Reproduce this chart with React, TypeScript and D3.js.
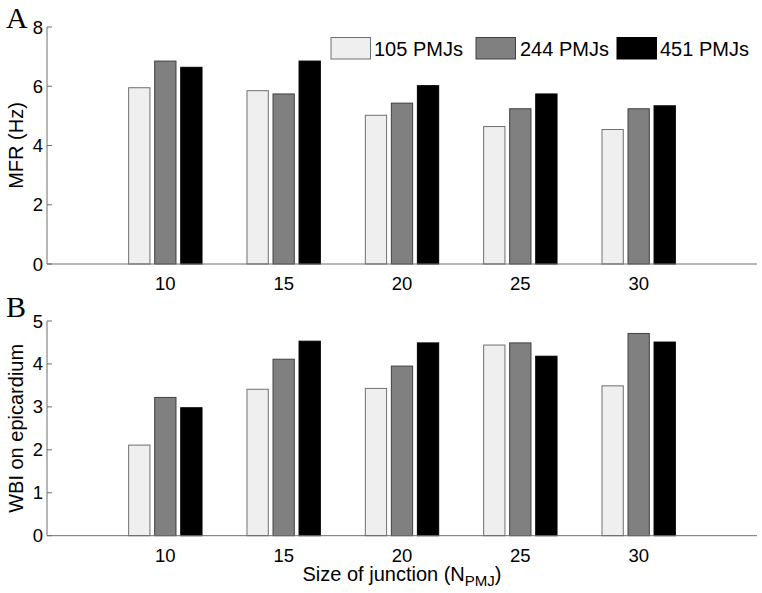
import React from "react";
import * as d3 from "d3";

const categories = [10, 15, 20, 25, 30];
const seriesNames = ["105 PMJs", "244 PMJs", "451 PMJs"];
const mfr105 = [5.95, 5.85, 5.02, 4.64, 4.54];
const mfr244 = [6.85, 5.74, 5.43, 5.24, 5.24];
const mfr451 = [6.64, 6.85, 6.02, 5.74, 5.34];
const wbi105 = [2.11, 3.41, 3.43, 4.44, 3.49];
const wbi244 = [3.22, 4.11, 3.95, 4.49, 4.71];
const wbi451 = [2.98, 4.53, 4.49, 4.18, 4.51];
const mfrTicks = [0, 2, 4, 6, 8];
const wbiTicks = [0, 1, 2, 3, 4, 5];

const fills = ["#efefef", "#808080", "#000000"];
const strokes = ["#707070", "#404040", "#000000"];
const FONT = "'Liberation Sans', Arial, Helvetica, sans-serif";
const SERIF = "'Liberation Serif', 'Times New Roman', serif";
const AXIS = "#6e6e6e";

const x = d3.scaleLinear().domain([5, 35]).range([47, 757]);
const barOffset = 1.1;
const barWidth = 0.9;

function Panel({ series, yTicks, yMax, top, bottom, ylabel, letter, letterY }) {
  const y = d3.scaleLinear().domain([0, yMax]).range([bottom, top]);
  const x0 = x.range()[0];
  const x1 = x.range()[1];
  return (
    <g>
      <text x={6} y={letterY} fontFamily={SERIF} fontSize={30}>{letter}</text>
      <line x1={x0} x2={x0} y1={y(yMax)} y2={y(0)} stroke={AXIS} strokeWidth={1} />
      {yTicks.map((t) => (
        <g key={t}>
          <line x1={x0} x2={x0 + 5} y1={y(t)} y2={y(t)} stroke={AXIS} />
          <text x={43} y={y(t) + 6.5} textAnchor="end" fontFamily={FONT} fontSize={18.5}>{t}</text>
        </g>
      ))}
      <text
        transform={`translate(${23},${(y(0) + y(yMax)) / 2}) rotate(-90)`}
        textAnchor="middle"
        fontFamily={FONT}
        fontSize={20}
      >{ylabel}</text>
      {categories.map((c) => (
        <g key={c}>
          <line x1={x(c)} x2={x(c)} y1={y(0)} y2={y(0) - 5} stroke={AXIS} />
          <text x={x(c)} y={y(0) + 26} textAnchor="middle" fontFamily={FONT} fontSize={18.5}>{c}</text>
        </g>
      ))}
      {series.map((vals, si) =>
        vals.map((v, ci) => {
          const cx = categories[ci] + (si - 1) * barOffset;
          const xl = x(cx - barWidth / 2);
          const xr = x(cx + barWidth / 2);
          return (
            <rect
              key={`${si}-${ci}`}
              x={xl}
              y={y(v)}
              width={xr - xl}
              height={y(0) - y(v)}
              fill={fills[si]}
              stroke={strokes[si]}
              strokeWidth={1}
            />
          );
        })
      )}
      <line x1={x0} x2={x1} y1={y(0)} y2={y(0)} stroke={AXIS} strokeWidth={1} />
    </g>
  );
}

const legendX = [331, 476, 617];
const legendTextX = [374, 520, 660];

export default function App() {
  return (
    <svg
      width={762}
      height={593}
      style={{ position: "absolute", left: 0, top: 0, background: "#fff" }}
    >
      <rect width={762} height={593} fill="#fff" />
      <Panel
        series={[mfr105, mfr244, mfr451]}
        yTicks={mfrTicks}
        yMax={8}
        top={27}
        bottom={264}
        ylabel="MFR (Hz)"
        letter="A"
        letterY={28}
      />
      <Panel
        series={[wbi105, wbi244, wbi451]}
        yTicks={wbiTicks}
        yMax={5}
        top={321}
        bottom={535.7}
        ylabel="WBI on epicardium"
        letter="B"
        letterY={317}
      />
      {seriesNames.map((n, i) => (
        <g key={n}>
          <rect x={legendX[i]} y={37.5} width={39.5} height={21.5} fill={fills[i]} stroke={strokes[i]} />
          <text x={legendTextX[i]} y={55.5} fontFamily={FONT} fontSize={20}>{n}</text>
        </g>
      ))}
      <text x={402} y={581} textAnchor="middle" fontFamily={FONT} fontSize={20}>
        Size of junction (N
        <tspan baselineShift="-30%" fontSize={15}>PMJ</tspan>
        <tspan>)</tspan>
      </text>
    </svg>
  );
}
